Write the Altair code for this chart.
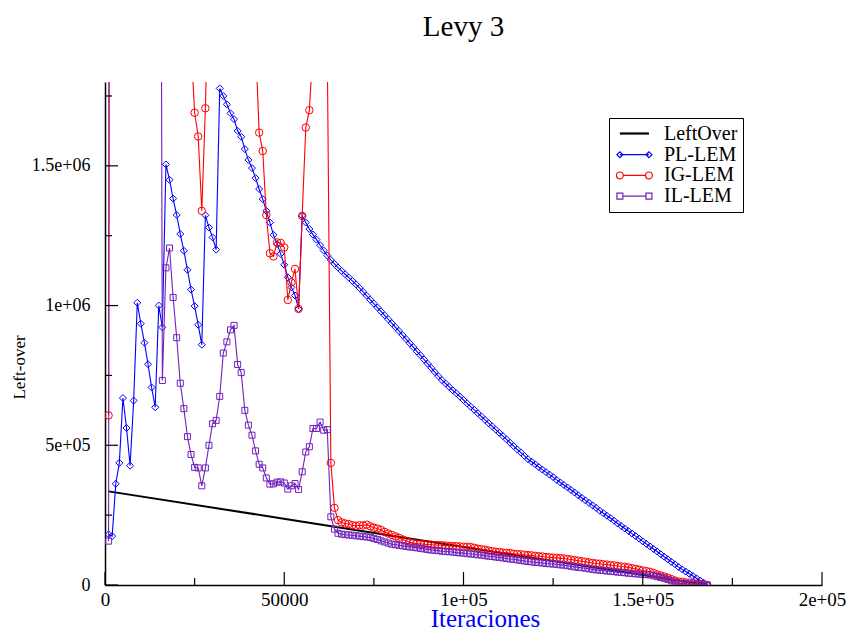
import altair as alt
import pandas as pd

SERIES = ["LeftOver", "PL-LEM", "IG-LEM", "IL-LEM"]
COLORS = ["#000000", "#0000ff", "#ff0000", "#7221bc"]
ITER_STEP = 1000  # one sample every 1000 iterations, starting at 1000

leftover_iter = [1000, 49000, 68000, 168000]
leftover_vals = [3.35e5, 2.39e5, 2.0e5, 0]

pl_lem = [
    1.81e5, 1.75e5, 3.62e5, 4.37e5, 6.69e5, 5.62e5, 4.27e5, 6.6e5, 1.01e6, 9.35e5,
    8.67e5, 7.9e5, 7.07e5, 6.36e5, 1.0e6, 9.22e5, 1.505e6, 1.45e6, 1.383e6, 1.324e6,
    1.256e6, 1.196e6, 1.128e6, 1.057e6, 9.98e5, 9.31e5, 8.6e5, 1.323e6, 1.279e6, 1.244e6,
    1.2e6, 1.777e6, 1.75e6, 1.72e6, 1.688e6, 1.667e6, 1.625e6, 1.604e6, 1.56e6, 1.521e6,
    1.492e6, 1.456e6, 1.417e6, 1.381e6, 1.339e6, 1.297e6, 1.253e6, 1.22e6, 1.185e6, 1.146e6,
    1.101e6, 1.065e6, 1.036e6, 9.88e5,
    1.321e6, 1.297e6, 1.274e6, 1.254e6, 1.236e6, 1.216e6, 1.197e6, 1.179e6, 1.163e6, 1.149e6,
    1.136e6, 1.124e6, 1.112e6, 1.1e6, 1.088e6, 1.076e6,
    1.063e6, 1.049e6, 1.035e6, 1.021e6, 1.007e6, 9.93e5, 9.79e5, 9.65e5, 9.51e5, 9.37e5,
    9.23e5, 9.09e5, 8.94e5, 8.8e5, 8.65e5, 8.51e5, 8.36e5, 8.22e5, 8.07e5, 7.92e5,
    7.77e5, 7.62e5, 7.47e5, 7.33e5,
    7.21e5, 7.09e5, 6.97e5, 6.86e5, 6.74e5, 6.62e5, 6.5e5, 6.38e5, 6.27e5, 6.15e5,
    6.03e5, 5.91e5, 5.79e5, 5.68e5, 5.56e5, 5.44e5, 5.33e5, 5.21e5, 5.09e5, 4.97e5,
    4.85e5, 4.74e5, 4.62e5, 4.5e5,
    4.41e5, 4.32e5, 4.22e5, 4.13e5, 4.04e5, 3.95e5, 3.86e5, 3.76e5, 3.67e5, 3.58e5,
    3.49e5, 3.4e5, 3.31e5, 3.21e5, 3.12e5, 3.03e5, 2.94e5, 2.85e5, 2.76e5, 2.66e5,
    2.57e5, 2.48e5, 2.39e5, 2.3e5, 2.2e5, 2.11e5, 2.02e5, 1.93e5, 1.84e5, 1.75e5,
    1.66e5, 1.56e5, 1.47e5, 1.38e5, 1.29e5, 1.2e5, 1.1e5, 1.01e5, 9.2e4, 8.3e4,
    7.4e4, 6.4e4,
    5.6e4, 4.8e4, 4.0e4, 3.2e4, 2.4e4, 1.6e4, 8e3, 0,
]

ig_lem = [
    6.07e5,
    9.5e6, 8.0e6, 7.2e6, 6.5e6, 6.0e6, 5.6e6, 5.2e6, 4.9e6, 4.6e6, 4.3e6,
    4.0e6, 3.8e6, 3.6e6, 3.4e6, 3.2e6, 3.0e6, 2.85e6, 2.7e6, 2.55e6, 2.4e6,
    2.25e6, 2.1e6,
    1.94e6, 1.69e6, 1.605e6, 1.339e6, 1.706e6, 2.2e6,
    2.9e6, 3.4e6, 3.8e6, 4.0e6, 4.1e6, 4.0e6, 3.8e6, 3.5e6, 3.1e6, 2.7e6, 2.4e6, 2.15e6,
    1.94e6, 1.619e6, 1.553e6, 1.324e6, 1.187e6, 1.176e6, 1.226e6, 1.224e6, 1.208e6, 1.02e6,
    1.083e6, 1.131e6, 9.88e5, 1.321e6, 1.637e6, 1.699e6, 1.92e6,
    2.6e6, 3.2e6, 2.9e6,
    1.92e6,
    4.37e5, 2.76e5, 2.32e5, 2.24e5, 2.2e5, 2.18e5, 2.14e5, 2.12e5, 2.14e5, 2.13e5,
    2.16e5, 2.1e5, 2.05e5, 2.02e5, 1.97e5, 1.9e5, 1.84e5, 1.79e5, 1.74e5, 1.69e5,
    1.63e5, 1.58e5, 1.53e5, 1.5e5, 1.48e5, 1.47e5, 1.46e5, 1.45e5, 1.44e5, 1.43e5,
    1.43e5, 1.42e5, 1.41e5, 1.4e5, 1.39e5, 1.39e5, 1.38e5, 1.37e5, 1.37e5, 1.36e5,
    1.33e5, 1.3e5, 1.28e5, 1.26e5, 1.23e5, 1.21e5, 1.19e5, 1.18e5, 1.16e5, 1.15e5,
    1.14e5, 1.12e5, 1.11e5, 1.1e5, 1.08e5, 1.07e5, 1.06e5, 1.04e5, 1.03e5, 1.02e5,
    1.0e5, 9.9e4, 9.8e4, 9.7e4, 9.6e4, 9.5e4, 9.3e4, 9.1e4, 8.9e4, 8.7e4,
    8.5e4, 8.3e4, 8.1e4, 7.9e4, 7.7e4, 7.6e4, 7.4e4, 7.3e4, 7.1e4, 7.0e4,
    6.8e4, 6.6e4, 6.5e4, 6.3e4, 6.0e4, 5.8e4, 5.5e4, 5.2e4, 5.0e4, 4.7e4,
    4.3e4, 3.8e4, 3.4e4, 3.0e4, 2.6e4, 2.1e4, 1.6e4, 1.2e4, 1.1e4, 9e3,
    8e3, 6e3, 5e3, 3e3, 2e3, 0,
]

il_lem = [
    1.57e5,
    1.2e7, 1.1e7, 1.0e7, 9.0e6, 8.5e6, 8.0e6, 7.5e6, 7.0e6, 6.8e6, 6.5e6,
    6.2e6, 6.0e6, 5.8e6, 5.5e6,
    7.32e5, 1.135e6, 1.206e6, 1.029e6, 8.85e5, 7.22e5, 6.31e5, 5.31e5, 4.67e5, 4.21e5,
    4.19e5, 3.55e5, 4.19e5, 5.0e5, 5.77e5, 5.89e5, 6.75e5, 8.3e5, 8.7e5, 9.13e5,
    9.29e5, 7.89e5, 7.6e5, 6.25e5, 5.72e5, 5.36e5, 4.8e5, 4.32e5, 4.19e5, 3.83e5,
    3.61e5, 3.62e5, 3.68e5, 3.69e5, 3.65e5, 3.43e5, 3.55e5, 3.63e5, 3.42e5, 4.05e5,
    4.76e5, 4.95e5, 5.6e5, 5.6e5, 5.83e5, 5.54e5, 5.56e5,
    2.44e5, 2.0e5, 1.85e5, 1.82e5, 1.8e5, 1.79e5, 1.78e5, 1.76e5, 1.75e5, 1.73e5,
    1.72e5, 1.7e5, 1.66e5, 1.63e5, 1.58e5, 1.54e5, 1.5e5, 1.46e5, 1.44e5, 1.42e5,
    1.4e5, 1.38e5, 1.36e5, 1.35e5, 1.33e5, 1.31e5, 1.29e5, 1.27e5, 1.25e5, 1.24e5,
    1.23e5, 1.21e5, 1.2e5, 1.19e5, 1.18e5, 1.16e5, 1.15e5, 1.14e5, 1.12e5, 1.11e5,
    1.1e5, 1.08e5, 1.07e5, 1.05e5, 1.03e5, 1.02e5, 1.0e5, 9.9e4, 9.7e4, 9.5e4,
    9.3e4, 9.2e4, 9.0e4, 8.8e4, 8.6e4, 8.4e4, 8.3e4, 8.1e4, 8.0e4, 7.9e4,
    7.7e4, 7.6e4, 7.5e4, 7.4e4, 7.2e4, 7.1e4, 6.9e4, 6.7e4, 6.5e4, 6.3e4,
    6.2e4, 6.0e4, 5.8e4, 5.6e4, 5.4e4, 5.3e4, 5.2e4, 5.0e4, 4.9e4, 4.8e4,
    4.6e4, 4.5e4, 4.4e4, 4.2e4, 4.1e4, 4.0e4, 3.9e4, 3.8e4, 3.7e4, 3.6e4,
    3.3e4, 3.0e4, 2.7e4, 2.4e4, 2.0e4, 1.5e4, 1.0e4, 6e3, 5e3, 4e3,
    3e3, 2e3, 2e3, 1e3, 1e3, 0,
]

x_major = [0, 50000, 100000, 150000, 200000]
x_labels = ["0", "50000", "1e+05", "1.5e+05", "2e+05"]
x_minor = [25000, 75000, 125000, 175000]
y_major = [0, 500000, 1000000, 1500000]
y_labels = ["0", "5e+05", "1e+06", "1.5e+06"]
y_minor = [250000, 750000, 1250000, 1750000]

# ---------------------------------------------------------------- data frames
rows = []
for it, v in zip(leftover_iter, leftover_vals):
    rows.append({"iter": it, "value": v, "series": "LeftOver"})
for name, vals in (("PL-LEM", pl_lem), ("IG-LEM", ig_lem), ("IL-LEM", il_lem)):
    for i, v in enumerate(vals):
        rows.append({"iter": ITER_STEP * (i + 1), "value": v, "series": name})
df = pd.DataFrame(rows)


def label_expr(values, labels):
    parts = [f"datum.value == {v} ? '{l}'" for v, l in zip(values, labels)]
    return " : ".join(parts) + " : ''"


SERIF = "Liberation Serif"
W, H = 717, 503

x_enc = alt.X(
    "iter:Q",
    scale=alt.Scale(domain=[0, 200000], nice=False, zero=False),
    axis=alt.Axis(
        values=x_major, labelExpr=label_expr(x_major, x_labels), ticks=False, tickSize=0,
        grid=False, domainColor="black", domainWidth=1.5, labelFont=SERIF, labelFontSize=19,
        labelColor="black", labelPadding=5, labelFlush=False, labelOverlap=False,
        title="Iteraciones", titleColor="#0000ff", titleFont=SERIF, titleFontSize=25,
        titleFontWeight="normal", titleX=380, titleY=41, titleAlign="center",
        titleBaseline="alphabetic",
    ),
)
y_enc = alt.Y(
    "value:Q",
    scale=alt.Scale(domain=[0, 1800000], nice=False),
    axis=alt.Axis(
        values=y_major, labelExpr=label_expr(y_major, y_labels), ticks=False, tickSize=0,
        grid=False, domainColor="black", domainWidth=1.5, labelFont=SERIF, labelFontSize=18,
        labelColor="black", labelPadding=15, labelFlush=False, labelOverlap=False,
        title="Left-over", titleColor="black", titleFont=SERIF, titleFontSize=17,
        titleFontWeight="normal", titleX=-86, titleY=285, titleAngle=270,
        titleAlign="center", titleBaseline="middle",
    ),
)

layers = []
# LeftOver black line
layers.append(
    alt.Chart(df).transform_filter(alt.datum.series == "LeftOver")
    .mark_line(color="black", strokeWidth=2, clip=True)
    .encode(x=x_enc, y=y_enc)
)

shapes = {"PL-LEM": ("diamond", 49), "IG-LEM": ("circle", 56), "IL-LEM": ("square", 36)}
for name, col in zip(SERIES[1:], COLORS[1:]):
    shp, sz = shapes[name]
    base = alt.Chart(df).transform_filter(alt.datum.series == name)
    layers.append(
        base.mark_line(color=col, strokeWidth=1.1, clip=True).encode(x=x_enc, y=y_enc)
    )
    layers.append(
        base.mark_point(shape=shp, size=sz, filled=False, color=col, strokeWidth=1,
                        opacity=1, clip=True)
        .encode(x=x_enc, y=y_enc)
    )

# legend (built-in legend, entries drawn with custom path symbols)
LEGEND_PATHS = [
    "M-1.07,0L2.16,0",
    "M-1.07,0L2.16,0M-1.4,0L-1.07,-0.33L-0.74,0L-1.07,0.33ZM1.83,0L2.16,-0.33L2.49,0L2.16,0.33Z",
    "M-0.69,0L1.78,0M-0.69,0A0.38 0.38 0 1 1 -1.45,0A0.38 0.38 0 1 1 -0.69,0Z"
    "M2.54,0A0.38 0.38 0 1 1 1.78,0A0.38 0.38 0 1 1 2.54,0Z",
    "M-0.74,0L1.83,0M-1.4,-0.33L-0.74,-0.33L-0.74,0.33L-1.4,0.33Z"
    "M1.83,-0.33L2.49,-0.33L2.49,0.33L1.83,0.33Z",
]
LEGEND_WIDTHS = [2.2, 1.2, 1.2, 1.2]
legend = alt.Legend(
    orient="none", legendX=504, legendY=36, padding=5, strokeColor="black",
    fillColor="white", cornerRadius=0, symbolSize=324,
    symbolOffset=5, labelOffset=24, rowPadding=0.7, labelFont=SERIF, labelFontSize=20,
    labelColor="black", labelLimit=200,
)
layers.append(
    alt.Chart(df).transform_filter("false")
    .mark_point(filled=False, opacity=1)
    .encode(
        color=alt.Color("series:N", scale=alt.Scale(domain=SERIES, range=COLORS),
                        title="", legend=legend),
        shape=alt.Shape("series:N", scale=alt.Scale(domain=SERIES, range=LEGEND_PATHS),
                        title="", legend=legend),
        strokeWidth=alt.StrokeWidth("series:N",
                                    scale=alt.Scale(type="ordinal", domain=SERIES,
                                                    range=LEGEND_WIDTHS),
                                    title="", legend=legend),
    )
)

# inward ticks
tick_x_major = pd.DataFrame({"iter": x_major})
tick_x_minor = pd.DataFrame({"iter": x_minor})
tick_y_major = pd.DataFrame({"value": y_major})
tick_y_minor = pd.DataFrame({"value": y_minor})
layers.append(alt.Chart(tick_x_major).mark_rule(color="black", strokeWidth=1.2)
              .encode(x=x_enc, y=alt.value(H), y2=alt.value(H - 13)))
layers.append(alt.Chart(tick_x_minor).mark_rule(color="black", strokeWidth=1.2)
              .encode(x=x_enc, y=alt.value(H), y2=alt.value(H - 7)))
layers.append(alt.Chart(tick_y_major).mark_rule(color="black", strokeWidth=1.2)
              .encode(y=y_enc, x=alt.value(0), x2=alt.value(13)))
layers.append(alt.Chart(tick_y_minor).mark_rule(color="black", strokeWidth=1.2)
              .encode(y=y_enc, x=alt.value(0), x2=alt.value(7)))

chart = (
    alt.layer(*layers)
    .properties(
        width=W, height=H,
        title=alt.Title("Levy 3", font=SERIF, fontSize=29, fontWeight="normal",
                        color="black", anchor="middle", offset=40),
        autosize=alt.AutoSizeParams(type="none"),
        padding={"left": 105, "top": 82, "right": 30, "bottom": 47},
        background="white",
    )
    .configure_view(strokeWidth=0)
)

chart.save("out.html", embed_options={"renderer": "svg", "actions": False})
